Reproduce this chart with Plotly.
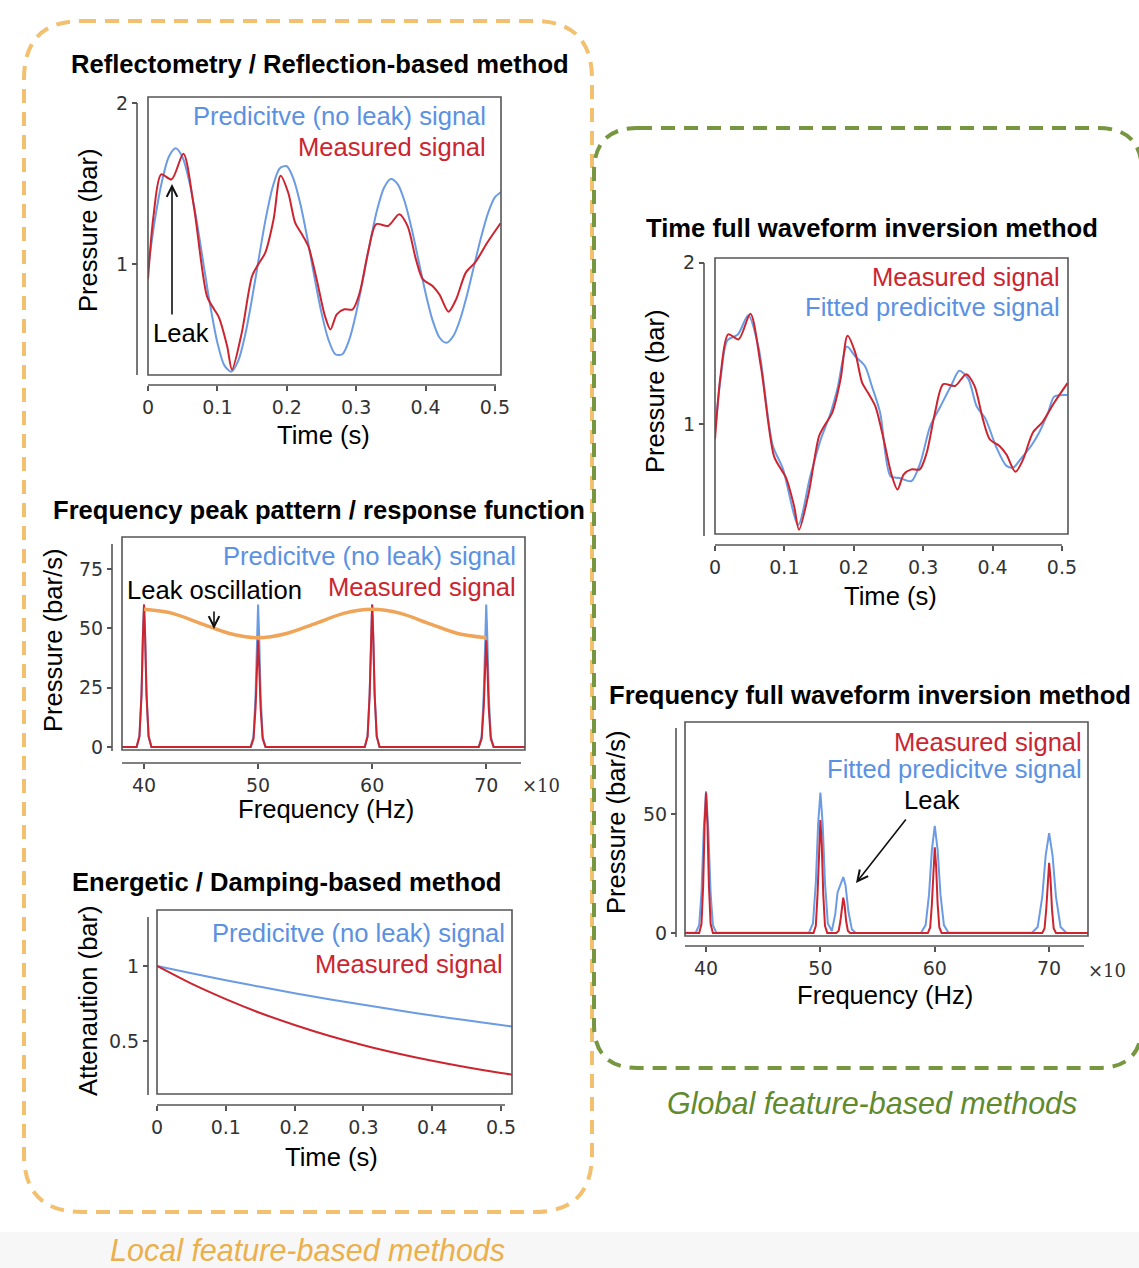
import plotly.graph_objects as go

W, H = 1139, 1268

# ---------------- data ----------------
# Reflectometry: predictive (no leak) pressure signal [bar] vs time [s]
t_pred = [0.00, 0.01, 0.02, 0.03, 0.04, 0.05, 0.06, 0.07, 0.08, 0.09,
          0.10, 0.11, 0.12, 0.13, 0.14, 0.15, 0.16, 0.17, 0.18, 0.19,
          0.20, 0.21, 0.22, 0.23, 0.24, 0.25, 0.26, 0.27, 0.28, 0.29,
          0.30, 0.31, 0.32, 0.33, 0.34, 0.35, 0.36, 0.37, 0.38, 0.39,
          0.40, 0.41, 0.42, 0.43, 0.44, 0.45, 0.46, 0.47, 0.48, 0.49,
          0.50, 0.51]
p_pred = [0.97, 1.277, 1.511, 1.666, 1.718, 1.66, 1.502, 1.27, 0.999, 0.733,
          0.511, 0.37, 0.331, 0.398, 0.559, 0.786, 1.043, 1.289, 1.483, 1.595,
          1.607, 1.524, 1.364, 1.15, 0.915, 0.697, 0.53, 0.439, 0.439, 0.529,
          0.696, 0.909, 1.134, 1.333, 1.472, 1.527, 1.494, 1.386, 1.218, 1.018,
          0.819, 0.651, 0.543, 0.51, 0.552, 0.658, 0.811, 0.99, 1.166, 1.316,
          1.415, 1.45]

# Measured pressure signal [bar] (reflectometry and time-FWI panels)
t_meas = [0.000, 0.008, 0.019, 0.034, 0.051, 0.066, 0.085, 0.095, 0.102, 0.114,
          0.121, 0.135, 0.150, 0.159, 0.169, 0.181, 0.191, 0.202, 0.212, 0.221,
          0.231, 0.243, 0.255, 0.263, 0.272, 0.283, 0.295, 0.305, 0.317, 0.329,
          0.346, 0.362, 0.374, 0.386, 0.396, 0.410, 0.420, 0.433, 0.444, 0.458,
          0.472, 0.489, 0.508]
p_meas = [0.905, 1.30, 1.556, 1.525, 1.684, 1.36, 0.80, 0.72, 0.67, 0.49,
          0.344, 0.57, 0.925, 0.998, 1.07, 1.278, 1.548, 1.444, 1.257, 1.19,
          1.11, 0.905, 0.676, 0.593, 0.687, 0.718, 0.718, 0.82, 1.07, 1.247,
          1.236, 1.309, 1.236, 1.03, 0.905, 0.863, 0.81, 0.703, 0.78, 0.946,
          1.012, 1.133, 1.253]

# Time FWI: fitted predictive signal [bar]
t_fit = [0.000, 0.008, 0.018, 0.033, 0.048, 0.063, 0.083, 0.098, 0.120, 0.137,
         0.152, 0.166, 0.177, 0.190, 0.202, 0.216, 0.226, 0.238, 0.253, 0.266,
         0.283, 0.296, 0.310, 0.325, 0.340, 0.352, 0.365, 0.377, 0.390, 0.405,
         0.420, 0.430, 0.440, 0.455, 0.467, 0.480, 0.489, 0.508]
p_fit = [0.944, 1.28, 1.52, 1.555, 1.675, 1.47, 0.87, 0.72, 0.375, 0.67,
         0.90, 1.06, 1.23, 1.48, 1.42, 1.36, 1.235, 1.07, 0.675, 0.665,
         0.645, 0.76, 0.985, 1.11, 1.235, 1.33, 1.28, 1.11, 1.03, 0.86,
         0.74, 0.73, 0.78, 0.86, 0.945, 1.07, 1.17, 1.18]

# Frequency peak pattern: frequency [x10 Hz], amplitude [bar/s]
f_peak = [38.0,
          39.35, 39.6, 39.78, 39.9, 40.0, 40.1, 40.22, 40.4, 40.65,
          49.35, 49.6, 49.78, 49.9, 50.0, 50.1, 50.22, 50.4, 50.65,
          59.35, 59.6, 59.78, 59.9, 60.0, 60.1, 60.22, 60.4, 60.65,
          69.35, 69.6, 69.78, 69.9, 70.0, 70.1, 70.22, 70.4, 70.65,
          73.5]
a_peak_pred = [0,
               0, 4.5, 22.0, 46.0, 60.0, 46.0, 22.0, 4.5, 0,
               0, 4.5, 22.0, 46.0, 60.0, 46.0, 22.0, 4.5, 0,
               0, 4.5, 22.0, 46.0, 60.0, 46.0, 22.0, 4.5, 0,
               0, 4.5, 22.0, 46.0, 60.0, 46.0, 22.0, 4.5, 0,
               0]
a_peak_meas = [0,
               0, 4.5, 22.0, 46.0, 60.0, 46.0, 22.0, 4.5, 0,
               0, 3.4, 16.5, 34.5, 45.0, 34.5, 16.5, 3.4, 0,
               0, 4.5, 22.0, 46.0, 60.0, 46.0, 22.0, 4.5, 0,
               0, 3.4, 16.5, 34.5, 45.0, 34.5, 16.5, 3.4, 0,
               0]
f_osc = [40, 42.5, 45, 47.5, 50, 52.5, 55, 57.5, 60, 62.5, 65, 67.5, 70]
a_osc = [58, 56.3, 52, 47.8, 46, 47.8, 52, 56.3, 58, 56.3, 52, 47.8, 46]

# Energetic / damping: attenuation [bar] vs time [s]
t_damp = [0.0, 0.05, 0.10, 0.15, 0.20, 0.25, 0.30, 0.35, 0.40, 0.45, 0.50, 0.52]
att_pred = [1.0, 0.951, 0.905, 0.861, 0.819, 0.779, 0.741, 0.705, 0.670, 0.638, 0.607, 0.595]
att_meas = [1.0, 0.882, 0.779, 0.687, 0.607, 0.535, 0.472, 0.417, 0.368, 0.325, 0.287, 0.273]

# Frequency FWI: measured and fitted spectra [bar/s]
f_fwi_meas = [38.0,
              39.4, 39.6, 39.75, 39.88, 40.0, 40.12, 40.25, 40.4, 40.6,
              49.4, 49.6, 49.75, 49.88, 50.0, 50.12, 50.25, 50.4, 50.6,
              51.4, 51.6, 51.75, 51.88, 52.0, 52.12, 52.25, 52.4, 52.6,
              59.4, 59.6, 59.75, 59.88, 60.0, 60.12, 60.25, 60.4, 60.6,
              69.4, 69.6, 69.75, 69.88, 70.0, 70.12, 70.25, 70.4, 70.6,
              73.5]
a_fwi_meas = [0,
              0, 3.7, 20.0, 46.0, 59.0, 46.0, 20.0, 3.7, 0,
              0, 3.0, 16.2, 37.0, 47.5, 37.0, 16.2, 3.0, 0,
              0, 0.9, 5.0, 11.5, 14.8, 11.5, 5.0, 0.9, 0,
              0, 2.3, 12.2, 28.0, 36.0, 28.0, 12.2, 2.3, 0,
              0, 1.9, 10.0, 23.0, 29.5, 23.0, 10.0, 1.9, 0,
              0]
f_fwi_fit = [38.0, 39.1, 39.4, 39.6, 39.8, 40.0, 40.2, 40.4, 40.6, 40.9,
             49.0, 49.35, 49.6, 49.8, 50.0, 50.2, 50.4, 50.65, 51.0, 51.3,
             51.5, 51.7, 51.85, 52.0, 52.2, 52.45, 52.75, 53.1,
             58.8, 59.2, 59.5, 59.75, 60.0, 60.25, 60.5, 60.8, 61.2,
             68.5, 69.0, 69.4, 69.7, 70.0, 70.3, 70.6, 71.0, 71.5, 73.5]
a_fwi_fit = [0, 0.1, 3.3, 16.5, 43.2, 59.5, 43.2, 16.5, 3.3, 0.1,
             0.1, 4.0, 21.2, 45.7, 59.0, 45.7, 21.2, 4.0, 0.8, 8.0,
             17.0, 19.5, 22.0, 23.5, 20.0, 9.0, 1.5, 0,
             0.1, 3.3, 16.2, 34.9, 45.0, 34.9, 16.2, 3.3, 0.1,
             0.1, 2.5, 15.1, 32.6, 42.0, 32.6, 15.1, 2.5, 0.1, 0]

time_ticks = [0, 0.1, 0.2, 0.3, 0.4, 0.5]
time_ticktext = ["0", "0.1", "0.2", "0.3", "0.4", "0.5"]
freq_ticks = [40, 50, 60, 70]
freq_ticktext = ["40", "50", "60", "70"]

# ---------------- styling ----------------
BLUE = "#6a9be3"
RED = "#cc2530"
BLUE_T = "#5b91e2"
RED_T = "#cc2530"
ORANGE = "#f0a458"
SPINE = "#555555"
TXT = "Liberation Sans"
FS = 25.6
TICKF = dict(family="DejaVu Sans", size=19, color="#333333")


def X(px):
    return px / W


def Y(py):
    return 1 - py / H


# panel geometry in pixels: box (l, t, r, b), x spine y, y spine x, spine extents
panels = {
    1: dict(box=(148, 97, 501, 375), xsp=385, ysp=137, xs=(148, 496), ys=(103, 375),
            xr=[0, 0.5087], yr=[0.31, 2.037], xt=(time_ticks, time_ticktext), yt=([1, 2], ["1", "2"])),
    2: dict(box=(122, 537, 525, 750), xsp=763, ysp=112, xs=(122, 521), ys=(544, 751),
            xr=[38.07, 73.4], yr=[-1.3, 88.5], xt=(freq_ticks, freq_ticktext),
            yt=([0, 25, 50, 75], ["0", "25", "50", "75"])),
    3: dict(box=(157, 910, 512, 1094), xsp=1105, ysp=148, xs=(157, 505), ys=(917, 1095),
            xr=[0, 0.516], yr=[0.147, 1.373], xt=(time_ticks, time_ticktext), yt=([0.5, 1], ["0.5", "1"])),
    4: dict(box=(715, 258, 1068, 534), xsp=545, ysp=704, xs=(715, 1062), ys=(263, 536),
            xr=[0, 0.5087], yr=[0.317, 2.03], xt=(time_ticks, time_ticktext), yt=([1, 2], ["1", "2"])),
    5: dict(box=(685, 722, 1088, 936), xsp=946, ysp=676, xs=(685, 1084), ys=(728, 937),
            xr=[38.16, 73.4], yr=[-1.3, 88.7], xt=(freq_ticks, freq_ticktext), yt=([0, 50], ["0", "50"])),
}

fig = go.Figure()


def add_line(i, x, y, color, width=2.0, shape="spline"):
    suffix = "" if i == 1 else str(i)
    fig.add_trace(go.Scatter(x=x, y=y, mode="lines", xaxis="x" + suffix, yaxis="y" + suffix,
                             line=dict(color=color, width=width, shape=shape, smoothing=0.8),
                             hoverinfo="skip", showlegend=False))


# Panel 1
add_line(1, t_pred, p_pred, BLUE)
add_line(1, t_meas, p_meas, RED)
# Panel 2
add_line(2, f_peak, a_peak_pred, BLUE, shape="linear")
add_line(2, f_peak, a_peak_meas, RED, shape="linear")
add_line(2, f_osc, a_osc, ORANGE, width=3.5)
# Panel 3
add_line(3, t_damp, att_pred, BLUE)
add_line(3, t_damp, att_meas, RED)
# Panel 4
add_line(4, t_fit, p_fit, BLUE)
add_line(4, t_meas, p_meas, RED)
# Panel 5
add_line(5, f_fwi_fit, a_fwi_fit, BLUE, shape="linear")
add_line(5, f_fwi_meas, a_fwi_meas, RED, shape="linear")

layout = dict(width=W, height=H, margin=dict(l=0, r=0, t=0, b=0),
              paper_bgcolor="white", plot_bgcolor="white", showlegend=False,
              hovermode=False)

shapes = []
for i, p in panels.items():
    l, t, r, b = p["box"]
    suffix = "" if i == 1 else str(i)
    common = dict(ticks="outside", ticklen=5, tickwidth=1.5, tickcolor=SPINE,
                  showline=False, showgrid=False, zeroline=False, tickfont=TICKF,
                  automargin=False, fixedrange=True, anchor="free")
    layout["xaxis" + suffix] = dict(domain=[X(l), X(r)], range=p["xr"], position=Y(p["xsp"]),
                                    tickmode="array", tickvals=p["xt"][0], ticktext=p["xt"][1],
                                    **common)
    layout["yaxis" + suffix] = dict(domain=[Y(b), Y(t)], range=p["yr"], position=X(p["ysp"]),
                                    tickmode="array", tickvals=p["yt"][0], ticktext=p["yt"][1],
                                    **common)
    # frame box
    shapes.append(dict(type="rect", xref="paper", yref="paper", x0=X(l), x1=X(r), y0=Y(b), y1=Y(t),
                       line=dict(color=SPINE, width=1.6), fillcolor="rgba(0,0,0,0)", layer="above"))
    # offset spines
    shapes.append(dict(type="line", xref="paper", yref="paper", x0=X(p["xs"][0]), x1=X(p["xs"][1]),
                       y0=Y(p["xsp"]), y1=Y(p["xsp"]), line=dict(color=SPINE, width=1.6)))
    shapes.append(dict(type="line", xref="paper", yref="paper", x0=X(p["ysp"]), x1=X(p["ysp"]),
                       y0=Y(p["ys"][0]), y1=Y(p["ys"][1]), line=dict(color=SPINE, width=1.6)))


def rounded(l, t, r, b, rad):
    pts = [
        f"M {X(l + rad)},{Y(t)}", f"L {X(r - rad)},{Y(t)}",
        f"Q {X(r)},{Y(t)} {X(r)},{Y(t + rad)}", f"L {X(r)},{Y(b - rad)}",
        f"Q {X(r)},{Y(b)} {X(r - rad)},{Y(b)}", f"L {X(l + rad)},{Y(b)}",
        f"Q {X(l)},{Y(b)} {X(l)},{Y(b - rad)}", f"L {X(l)},{Y(t + rad)}",
        f"Q {X(l)},{Y(t)} {X(l + rad)},{Y(t)}", "Z",
    ]
    return " ".join(pts)


# light grey strip at the bottom of the image
shapes.append(dict(type="rect", xref="paper", yref="paper", x0=0, x1=1, y0=0, y1=Y(1232),
                   line=dict(width=0), fillcolor="#f7f7f7", layer="below"))
shapes.append(dict(type="path", xref="paper", yref="paper", path=rounded(24, 21, 592, 1212, 58),
                   line=dict(color="#f2c06e", width=4, dash="14px,9px")))
shapes.append(dict(type="path", xref="paper", yref="paper", path=rounded(594, 128, 1142, 1068, 44),
                   line=dict(color="#76963f", width=4, dash="14px,9px")))
layout["shapes"] = shapes

ann = []


def txt(s, x, y, size=FS, color="black", xanchor="center", angle=0, style="normal", family=TXT):
    ann.append(dict(text=s, x=X(x), y=Y(y), xref="paper", yref="paper", showarrow=False,
                    xanchor=xanchor, yanchor="middle", textangle=angle,
                    font=dict(family=family, size=size, color=color, style=style)))


def arrow(hx, hy, tx, ty):
    ann.append(dict(text="", x=X(hx), y=Y(hy), xref="paper", yref="paper", showarrow=True,
                    ax=tx - hx, ay=ty - hy, axref="pixel", ayref="pixel",
                    arrowhead=5, arrowsize=1.3, arrowwidth=1.6, arrowcolor="#111111", standoff=0))


# titles
txt("<b>Reflectometry / Reflection-based method</b>", 320, 64)
txt("<b>Frequency peak pattern / response function</b>", 319, 510)
txt("<b>Energetic / Damping-based method</b>", 286, 882)
txt("<b>Time full waveform inversion method</b>", 872, 228)
txt("<b>Frequency full waveform inversion method</b>", 870, 695)

# axis titles
txt("Time (s)", 323, 435)
txt("Pressure (bar)", 88, 230, angle=-90)
txt("Frequency (Hz)", 326, 809)
txt("Pressure (bar/s)", 53, 640, angle=-90)
txt("Time (s)", 331, 1157)
txt("Attenaution (bar)", 88, 1001, angle=-90)
txt("Time (s)", 890, 596)
txt("Pressure (bar)", 655, 391, angle=-90)
txt("Frequency (Hz)", 885, 995)
txt("Pressure (bar/s)", 616, 823, angle=-90)

# multiplier labels
txt("×10", 541, 785, size=18, color="#333333", family="DejaVu Serif")
txt("×10", 1107, 970, size=18, color="#333333", family="DejaVu Serif")

# in-plot legends
txt("Predicitve (no leak) signal", 488, 116, color=BLUE_T, xanchor="right")
txt("Measured signal", 488, 147, color=RED_T, xanchor="right")
txt("Predicitve (no leak) signal", 518, 556, color=BLUE_T, xanchor="right")
txt("Measured signal", 518, 587, color=RED_T, xanchor="right")
txt("Predicitve (no leak) signal", 507, 933, color=BLUE_T, xanchor="right")
txt("Measured signal", 505, 964, color=RED_T, xanchor="right")
txt("Measured signal", 1062, 277, color=RED_T, xanchor="right")
txt("Fitted predicitve signal", 1062, 307, color=BLUE_T, xanchor="right")
txt("Measured signal", 1084, 742, color=RED_T, xanchor="right")
txt("Fitted predicitve signal", 1084, 769, color=BLUE_T, xanchor="right")

# leak annotations
txt("Leak", 181, 333)
arrow(172, 184, 172, 316)
txt("Leak oscillation", 125, 590, xanchor="left")
arrow(214, 629, 214, 610)
txt("Leak", 932, 800)
arrow(856, 883, 907, 818)

# group labels
txt("Local feature-based methods", 307, 1250, size=30.5, color="#ebb04c", style="italic")
txt("Global feature-based methods", 872, 1103, size=30.5, color="#5f8a2e", style="italic")

layout["annotations"] = ann
fig.update_layout(**layout)
fig.write_html("out.html")
